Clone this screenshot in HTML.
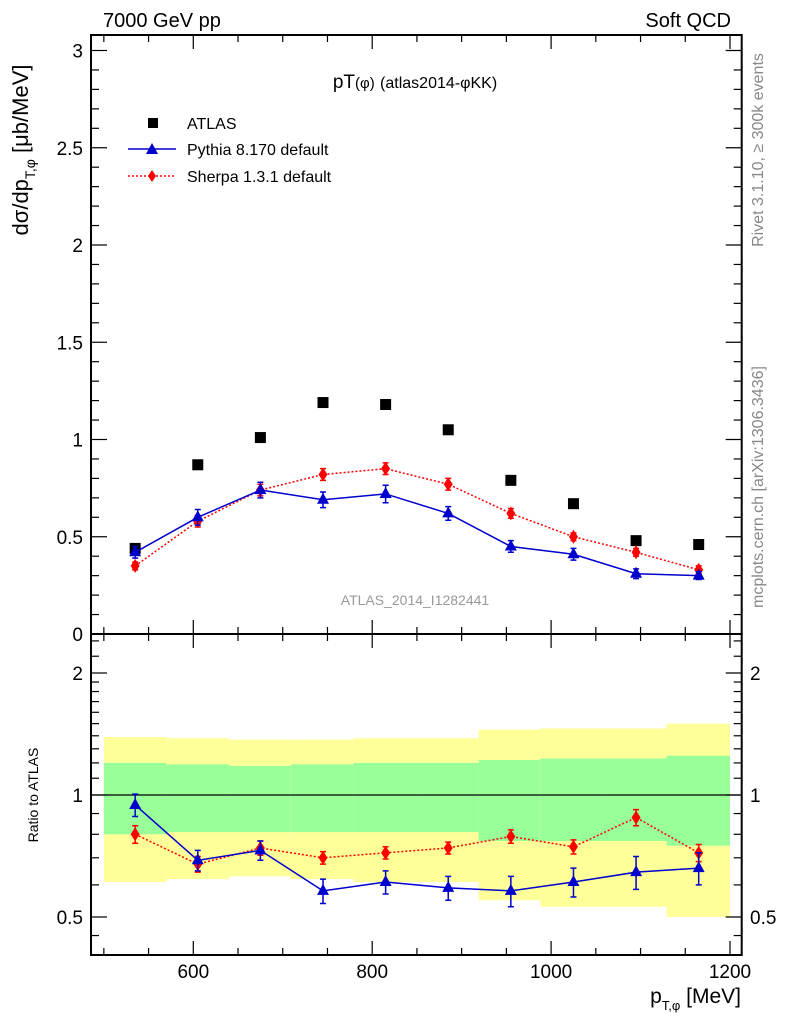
<!DOCTYPE html>
<html><head><meta charset="utf-8"><style>
html,body{margin:0;padding:0;background:#fff;}
svg{display:block;font-family:"Liberation Sans",sans-serif;}
</style></head><body>
<svg id="c" width="786" height="1024" viewBox="0 0 786 1024">
<text x="103" y="27" font-size="20">7000 GeV pp</text>
<text x="731" y="27" font-size="20" text-anchor="end">Soft QCD</text>
<text x="415" y="88" font-size="19" text-anchor="middle">pT<tspan font-size="15">(φ)</tspan> <tspan font-size="16">(atlas2014-φKK)</tspan></text>
<text transform="translate(28,150) rotate(-90)" font-size="22" text-anchor="middle">dσ/dp<tspan font-size="14" dy="7">T,φ</tspan><tspan dy="-7"> [μb/MeV]</tspan></text>
<text transform="translate(763,150) rotate(-90)" font-size="16" fill="#888" text-anchor="middle">Rivet 3.1.10, ≥ 300k events</text>
<text transform="translate(763,487) rotate(-90)" font-size="16" fill="#888" text-anchor="middle">mcplots.cern.ch [arXiv:1306.3436]</text>
<text x="415" y="605" font-size="14" fill="#999" text-anchor="middle">ATLAS_2014_I1282441</text>
<text transform="translate(38,795) rotate(-90)" font-size="14" text-anchor="middle">Ratio to ATLAS</text>
<text x="741" y="1003" font-size="21" text-anchor="end">p<tspan font-size="13" dy="7">T,φ</tspan><tspan dy="-7"> [MeV]</tspan></text>
<g>
<rect x="148" y="118" width="10" height="10" fill="#000"/>
<text x="187" y="129" font-size="16">ATLAS</text>
<line x1="128" y1="149" x2="176" y2="149" stroke="#00c" stroke-width="1.5"/>
<polygon points="152,143 158,154 146,154" fill="#00c"/>
<text x="187" y="155" font-size="16">Pythia 8.170 default</text>
<line x1="128" y1="176" x2="176" y2="176" stroke="#f00" stroke-width="1.5" stroke-dasharray="2,2"/>
<polygon points="152,170 156,176 152,182 148,176" fill="#f00"/>
<text x="187" y="182" font-size="16">Sherpa 1.3.1 default</text>
</g>
</svg>
<script>
const binEdges=[500,570,640,709,779,849,919,988,1058,1129,1200];
const xCenters=[535,605,675,745,815,885,955,1025,1095,1165];
const atlas=[0.44,0.87,1.01,1.19,1.18,1.05,0.79,0.67,0.48,0.46];
const pythia=[0.42,0.60,0.74,0.69,0.72,0.62,0.45,0.41,0.31,0.30];
const pythiaErr=[0.03,0.04,0.04,0.04,0.045,0.035,0.03,0.03,0.025,0.02];
const sherpa=[0.35,0.58,0.74,0.82,0.85,0.77,0.62,0.50,0.42,0.33];
const sherpaErr=[0.02,0.03,0.03,0.03,0.03,0.03,0.025,0.02,0.02,0.02];
const pythiaRatio=[0.945,0.69,0.73,0.58,0.61,0.59,0.58,0.61,0.645,0.66];
const pythiaRatioErr=[0.06,0.04,0.04,0.04,0.04,0.04,0.05,0.05,0.06,0.06];
const sherpaRatio=[0.80,0.675,0.74,0.70,0.72,0.74,0.79,0.745,0.88,0.72];
const sherpaRatioErr=[0.04,0.03,0.03,0.025,0.025,0.025,0.03,0.03,0.04,0.035];
const yellowHi=[1.39,1.38,1.37,1.37,1.38,1.38,1.45,1.46,1.46,1.50];
const yellowLo=[0.61,0.62,0.63,0.62,0.61,0.61,0.55,0.53,0.53,0.50];
const greenHi=[1.20,1.19,1.18,1.19,1.20,1.20,1.22,1.23,1.23,1.25];
const greenLo=[0.80,0.81,0.81,0.81,0.81,0.81,0.77,0.77,0.77,0.75];
const mainTicks=[0,0.5,1,1.5,2,2.5,3];
const mainTickLabels=["0","0.5","1","1.5","2","2.5","3"];
const ratioTicks=[0.5,1,2];
const ratioTickLabels=["0.5","1","2"];
const xTicks=[600,800,1000,1200];
const xTickLabels=["600","800","1000","1200"];

const NS="http://www.w3.org/2000/svg";
const svg=document.getElementById('c');
const L=91,R=741.7,MT=35,MB=634,RT=634,RB=955;
const X=v=>193.3+(v-600)*0.8945;
const Y=v=>634-v*194.5;
const YR=v=>795-Math.log2(v)*122;
function el(t,a,p){const e=document.createElementNS(NS,t);for(const k in a)e.setAttribute(k,a[k]);(p||svg).appendChild(e);return e;}
for(let i=0;i<10;i++){
 const x1=X(binEdges[i]),x2=X(binEdges[i+1]);
 const y=el('rect',{x:x1,y:YR(yellowHi[i]),width:x2-x1,height:YR(yellowLo[i])-YR(yellowHi[i]),fill:'#ffff99'});
 
 
 const g=el('rect',{x:x1,y:YR(greenHi[i]),width:x2-x1,height:YR(greenLo[i])-YR(greenHi[i]),fill:'#99ff99'});
 
 
}
const one=el('line',{x1:L,x2:R,y1:YR(1),y2:YR(1),stroke:'#000','stroke-width':1.2});


for(const [t,b,n] of [[MT,MB,'main-frame'],[RT,RB,'ratio-frame']]){
 const f=el('rect',{x:L,y:t,width:R-L,height:b-t,fill:'none',stroke:'#000','stroke-width':2});
 
 
}
for(let v=500;v<=1200;v+=50){
 const maj=v%200===0, len=maj?14:7, x=X(v);
 for(const [yb,dir] of [[MB,-1],[MT,1],[RB,-1],[RT,1]]){
  const t=el('line',{x1:x,x2:x,y1:yb,y2:yb+dir*len,stroke:'#000','stroke-width':1.2});
  
  
 }
}
xTicks.forEach((v,i)=>{const t=el('text',{x:X(v),y:978,'font-size':19,'text-anchor':'middle'});t.textContent=xTickLabels[i];
 
 });
for(let k=0;k<=30;k++){const v=k/10,maj=k%5===0,len=maj?16:8,y=Y(v);
 for(const [xb,d] of [[L,1],[R,-1]]){const t=el('line',{x1:xb,x2:xb+d*len,y1:y,y2:y,stroke:'#000','stroke-width':1.2});
 
 }}
mainTicks.forEach((v,i)=>{const t=el('text',{x:83,y:Y(v)+7,'font-size':19,'text-anchor':'end'});t.textContent=mainTickLabels[i];
 
 });
const rminor=[0.45,0.6,0.7,0.8,0.9,1.1,1.2,1.3,1.4,1.5,1.6,1.7,1.8,1.9,2.2,2.4];
rminor.forEach(v=>{for(const [xb,d] of [[L,1],[R,-1]]){const t=el('line',{x1:xb,x2:xb+d*8,y1:YR(v),y2:YR(v),stroke:'#000','stroke-width':1.2});
 
 }});
ratioTicks.forEach((v,i)=>{
 for(const [xb,d] of [[L,1],[R,-1]]){const t=el('line',{x1:xb,x2:xb+d*16,y1:YR(v),y2:YR(v),stroke:'#000','stroke-width':1.2});
 
 }
 const a=el('text',{x:83,y:YR(v)+7,'font-size':19,'text-anchor':'end'});a.textContent=ratioTickLabels[i];
 
 
 const b=el('text',{x:750,y:YR(v)+7,'font-size':19});b.textContent=ratioTickLabels[i];
 
 
});
function series(vals,errs,yf,color,dash,marker,name){
 const pts=xCenters.map((x,i)=>X(x)+','+yf(vals[i])).join(' ');
 const pl=el('polyline',{points:pts,fill:'none',stroke:color,'stroke-width':1.5,'stroke-dasharray':dash});
 
 
 xCenters.forEach((xv,i)=>{
  const x=X(xv),y=yf(vals[i]),y1=yf(vals[i]+errs[i]),y2=yf(vals[i]-errs[i]);
  const e=el('path',{d:`M${x},${y1}V${y2}M${x-3},${y1}H${x+3}M${x-3},${y2}H${x+3}`,stroke:color,'stroke-width':1.5,fill:'none'});
  
  
  const p=marker==='tri'?`${x},${y-7} ${x+6},${y+4} ${x-6},${y+4}`:`${x},${y-7} ${x+4.5},${y} ${x},${y+7} ${x-4.5},${y}`;
  const m=el('polygon',{points:p,fill:color});
  
  
 });
}
atlas.forEach((v,i)=>{const r=el('rect',{x:X(xCenters[i])-5.5,y:Y(v)-5.5,width:11,height:11,fill:'#000'});
 
 });
series(sherpa,sherpaErr,Y,'#f00','2,2','dia','sherpa');
series(pythia,pythiaErr,Y,'#00c','none','tri','pythia');
series(sherpaRatio,sherpaRatioErr,YR,'#f00','2,2','dia','sherpa-ratio');
series(pythiaRatio,pythiaRatioErr,YR,'#00c','none','tri','pythia-ratio');
</script>
</body></html>
